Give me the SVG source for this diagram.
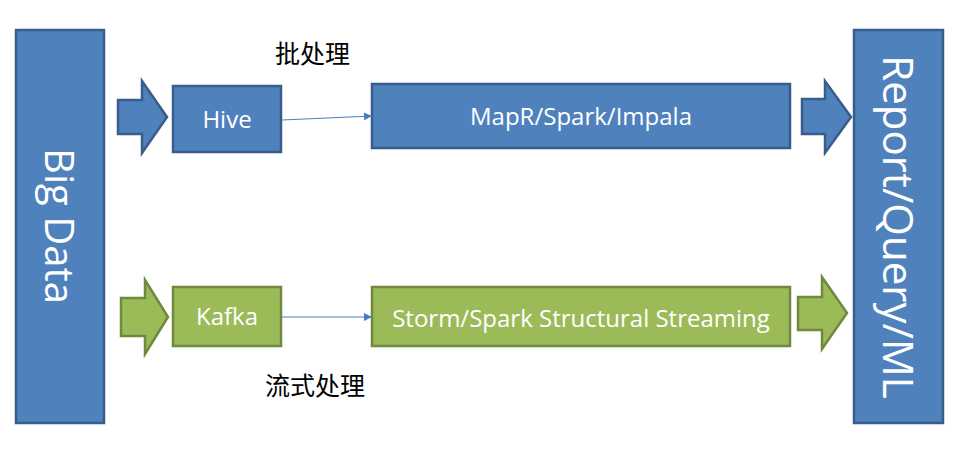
<svg xmlns="http://www.w3.org/2000/svg" width="960" height="451" viewBox="0 0 960 451">
<style>
.blue{fill:#4F81BD;stroke:#385D8A;stroke-width:2.5}
.green{fill:#9BBB59;stroke:#71893F;stroke-width:2.5}
.lbl{font-family:"Open Sans","Noto Sans",sans-serif;fill:#FFFFFF;text-anchor:middle}
.cjk{font-family:"Noto Sans CJK SC",sans-serif;fill:#000000;font-size:25px}
.conn{stroke:#4A7EBB;stroke-width:1;fill:none}
</style>
<defs>
<marker id="ah" viewBox="0 0 10 10" refX="10" refY="5" markerWidth="8" markerHeight="8" markerUnits="userSpaceOnUse" orient="auto">
<path d="M0,0 L10,5 L0,10 z" fill="#4A7EBB"/>
</marker>
</defs>
<rect width="960" height="451" fill="#FFFFFF"/>
<g id="bigdata">
<rect class="blue" x="16" y="30" width="88" height="393"/>
<text class="lbl" font-size="40" transform="translate(45,226) rotate(90)">Big Data</text>
</g>
<g id="report">
<rect class="blue" x="854" y="30" width="89" height="393"/>
<text class="lbl" font-size="42" transform="translate(883,227) rotate(90)">Report/Query/ML</text>
</g>
<g id="arrow-in-batch">
<path class="blue" d="M118,100 L142,100 L142,81 L167,117 L142,153 L142,134 L118,134 Z"/>
</g>
<g id="arrow-in-stream">
<path class="green" d="M121,298 L145,298 L145,280 L168,317 L145,354 L145,336 L121,336 Z"/>
</g>
<g id="arrow-out-batch">
<path class="blue" d="M802,99 L825,99 L825,81 L851,117 L825,153 L825,134 L802,134 Z"/>
</g>
<g id="arrow-out-stream">
<path class="green" d="M798,297 L822,297 L822,277 L847,313 L822,349 L822,330 L798,330 Z"/>
</g>
<g id="hive">
<rect class="blue" x="173" y="86" width="108" height="66"/>
<text class="lbl" font-size="24" x="227" y="128">Hive</text>
</g>
<g id="mapr">
<rect class="blue" x="372" y="84" width="418" height="64"/>
<text class="lbl" font-size="24" x="581" y="125">MapR/Spark/Impala</text>
</g>
<g id="kafka">
<rect class="green" x="173" y="287" width="108" height="59"/>
<text class="lbl" font-size="24" x="227" y="325">Kafka</text>
</g>
<g id="storm">
<rect class="green" x="372" y="287" width="418" height="59"/>
<text class="lbl" font-size="24" x="581" y="327">Storm/Spark Structural Streaming</text>
</g>
<g id="label-batch">
<text class="cjk" x="275" y="63">批处理</text>
</g>
<g id="label-stream">
<text class="cjk" x="265" y="395" font-size="26">流式处理</text>
</g>
<g id="connectors">
<line class="conn" x1="282" y1="120" x2="372" y2="116" marker-end="url(#ah)"/>
<line class="conn" x1="282" y1="317" x2="372" y2="317" marker-end="url(#ah)"/>
</g>
</svg>
